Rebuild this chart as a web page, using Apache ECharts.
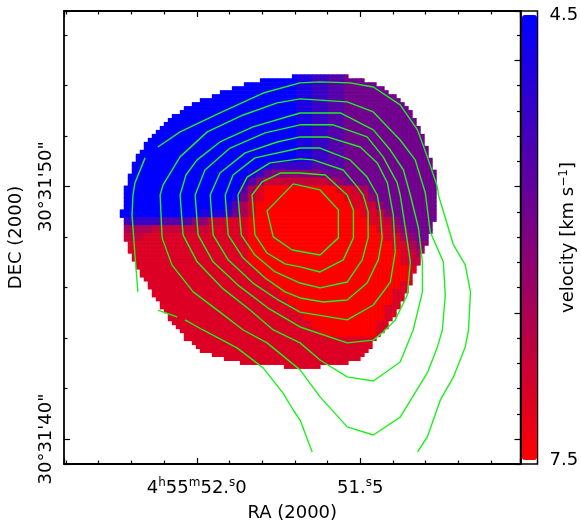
<!DOCTYPE html>
<html>
<head>
<meta charset="utf-8">
<script src="https://cdn.jsdelivr.net/npm/echarts@6/dist/echarts.min.js"></script>
<style>
html, body { margin: 0; padding: 0; background: #fff; }
#chart { width: 581px; height: 523px; }
</style>
</head>
<body>
<div id="chart"></div>
<script>
const FONT = 'DejaVu Sans';

// axis ranges: RA seconds of 4h55m, DEC arcsec of 30d31'
const RA_MIN = 51.010, RA_MAX = 52.406;
const DEC_MIN = 39.01, DEC_MAX = 56.96;
const VEL_MIN = 4.5, VEL_MAX = 7.5;

// velocity levels (km/s) used by the map codes 0..9
const VEL_LEVELS = [4.5, 4.83, 5.17, 5.5, 5.83, 6.17, 6.5, 6.83, 7.08, 7.5];

// velocity map on a 57x57 pixel grid, rows top -> bottom, run length coded "code x count"
const MAP_COLS = 57, MAP_ROWS = 57, MAP_COL0 = 7, MAP_ROW0 = 8;
const velocityRows = [
    [16, '0x6 1x2 2x2 3x2 4x4'],
    [13, '0x9 1x2 2x2 3x2 4x7'],
    [10, '0x12 1x2 2x2 3x2 4x8'],
    [7, '0x15 1x2 2x2 3x2 4x9'],
    [6, '0x16 1x2 2x2 3x2 4x10'],
    [4, '0x18 1x2 2x2 3x2 4x11'],
    [3, '0x19 1x2 2x2 3x2 4x11'],
    [2, '0x20 1x2 2x2 3x2 4x12'],
    [1, '0x21 1x2 2x2 3x2 4x12'],
    [0, '0x22 1x2 2x2 3x2 4x13'],
    [0, '0x22 1x2 2x2 3x2 4x13'],
    [-1, '0x19 1x1 2x5 3x4 4x13'],
    [-1, '0x17 1x1 2x1 4x1 5x6 4x16'],
    [-1, '0x16 1x1 3x1 5x1 7x8 6x1 5x1 4x14'],
    [-2, '0x17 3x1 6x1 8x1 9x9 8x2 7x1 6x1 4x11'],
    [-2, '0x16 1x1 4x1 7x1 8x1 9x10 8x2 7x1 5x1 4x10'],
    [-2, '0x15 1x1 3x1 6x1 8x1 9x12 8x2 7x1 5x1 4x9'],
    [-2, '0x12 1x3 2x1 4x1 6x1 8x1 9x13 8x2 7x1 5x1 4x8'],
    [-2, '2x7 3x4 5x2 7x2 8x3 9x15 8x2 7x1 5x1 4x6'],
    [-2, '6x6 7x7 8x5 9x16 8x2 6x1 5x1 4x5'],
    [-2, '7x5 8x13 9x17 8x2 6x1 5x1 4x4'],
    [-1, '8x17 9x18 8x2 6x1 5x3'],
    [-1, '8x17 9x19 8x1 7x1 6x3'],
    [0, '8x16 9x19 8x1 7x3'],
    [0, '8x17 9x19 8x3'],
    [1, '8x17 9x18 8x3'],
    [1, '8x18 9x16 8x3'],
    [2, '8x18 9x14 8x3'],
    [3, '8x18 9x13 8x3'],
    [3, '8x19 9x11 8x3'],
    [4, '8x19 9x10 8x3'],
    [5, '8x19 9x8 8x3'],
    [6, '8x19 9x7 8x3'],
    [7, '8x27'],
    [8, '8x25'],
    [11, '8x20'],
    [14, '8x16'],
];

// edge of the emission region, [RA s, DEC arcsec]
const mapOutline = [[51.684,54.39],[51.583,54.43],[51.500,54.31],[51.439,53.95],[51.387,53.56],[51.347,53.04],[51.316,52.25],[51.286,51.18],[51.264,50.15],[51.261,49.47],[51.264,49.08],[51.280,48.36],[51.307,47.41],[51.338,46.38],[51.378,45.31],[51.417,44.40],[51.460,43.81],[51.491,43.25],[51.552,42.93],[51.684,42.82],[51.858,43.01],[51.929,43.21],[51.990,43.53],[52.030,43.92],[52.057,44.32],[52.091,44.92],[52.134,45.71],[52.174,46.62],[52.204,47.41],[52.226,48.09],[52.229,49.00],[52.226,49.67],[52.214,50.15],[52.195,50.94],[52.164,51.57],[52.122,52.25],[52.073,52.76],[52.011,53.32],[51.929,53.71],[51.806,54.23]];

// contours, [RA s, DEC arcsec]
const contour1 = [[51.705,50.11],[51.623,49.87],[51.567,49.08],[51.567,47.97],[51.623,47.29],[51.708,47.49],[51.766,48.01],[51.785,49.04],[51.705,50.11]];
const contour2 = [[51.684,50.54],[51.607,50.46],[51.540,49.67],[51.521,49.08],[51.521,47.97],[51.552,47.10],[51.623,46.62],[51.684,46.82],[51.730,46.94],[51.785,47.37],[51.822,48.09],[51.831,49.67],[51.800,50.19],[51.745,50.54],[51.684,50.54]];
const contour3 = [[51.684,51.10],[51.644,51.06],[51.552,50.66],[51.509,49.99],[51.491,49.67],[51.476,49.00],[51.476,47.97],[51.494,47.10],[51.540,46.22],[51.623,45.99],[51.684,46.18],[51.760,46.62],[51.822,47.29],[51.864,48.09],[51.874,49.67],[51.846,50.38],[51.776,50.94],[51.684,51.10]];
const contour4 = [[51.684,51.53],[51.623,51.53],[51.531,51.06],[51.479,50.38],[51.448,49.67],[51.439,49.00],[51.433,47.97],[51.445,47.10],[51.479,46.18],[51.540,45.51],[51.613,45.43],[51.684,45.59],[51.730,45.83],[51.791,46.38],[51.858,47.17],[51.904,48.09],[51.913,49.67],[51.889,50.46],[51.822,51.14],[51.684,51.53]];
const contour5 = [[51.684,51.97],[51.601,51.97],[51.500,51.57],[51.448,50.94],[51.417,50.15],[51.399,48.88],[51.393,47.41],[51.408,46.22],[51.460,45.31],[51.540,44.72],[51.684,45.03],[51.751,45.51],[51.828,46.18],[51.904,47.10],[51.950,48.09],[51.959,49.67],[51.929,50.54],[51.852,51.34],[51.754,51.77],[51.684,51.97]];
const contour6 = [[51.684,52.45],[51.583,52.45],[51.479,51.97],[51.430,51.18],[51.387,50.15],[51.378,49.67],[51.362,48.36],[51.347,47.02],[51.356,45.71],[51.393,44.72],[51.430,44.24],[51.460,43.92],[51.540,43.81],[51.684,44.44],[51.782,45.19],[51.874,46.10],[51.950,47.02],[51.996,48.09],[52.005,49.67],[51.975,50.66],[51.898,51.53],[51.791,52.13],[51.684,52.45]];
const contour7 = [[51.684,52.92],[51.561,52.92],[51.460,52.25],[51.408,51.45],[51.368,50.66],[51.347,49.67],[51.322,48.36],[51.310,47.02],[51.310,45.83],[51.338,44.32],[51.378,43.05],[51.460,42.30],[51.540,42.46],[51.623,43.13],[51.684,43.81],[51.766,44.32],[51.837,45.11],[51.923,45.99],[51.999,47.02],[52.042,48.09],[52.051,49.67],[52.033,50.46],[51.999,51.06],[51.929,51.77],[51.828,52.37],[51.684,52.92]];
const contour8 = [[51.684,53.48],[51.540,53.36],[51.460,52.96],[51.378,51.85],[51.332,51.06],[51.301,49.75],[51.286,48.20],[51.246,47.02],[51.240,45.71],[51.249,44.32],[51.264,43.65],[51.295,42.62],[51.378,40.87],[51.460,40.16],[51.540,40.48],[51.623,41.67],[51.684,42.74],[51.785,43.81],[51.858,44.32],[51.929,45.03],[52.011,45.83],[52.076,46.90],[52.106,47.97],[52.112,49.67],[52.103,50.07],[52.051,51.18],[51.968,52.17],[51.858,52.84],[51.754,53.32],[51.684,53.48]];
const contour9 = [[52.119,51.57],[52.051,52.17],[51.929,52.92],[51.797,53.71],[51.684,54.11],[51.623,54.15],[51.531,54.11],[51.460,53.95],[51.378,53.24],[51.325,52.25],[51.295,51.18],[51.264,49.99],[51.261,49.67],[51.215,47.69],[51.179,46.90],[51.163,45.83],[51.169,44.32],[51.179,43.65],[51.215,42.46],[51.255,41.55],[51.295,40.08],[51.325,39.49]];
const contourWest = [[52.158,51.14],[52.189,50.15],[52.195,49.67],[52.198,48.88],[52.189,47.29],[52.180,45.83]];
const contourSouthA = [[52.119,45.11],[52.060,44.84]];
const contourSouthB = [[52.036,44.72],[51.981,44.32],[51.877,43.61],[51.797,42.82],[51.736,41.82],[51.705,41.15],[51.684,40.75],[51.647,39.49]];
const contourPeak = [[51.709,49.00],[51.705,49.00]];

const contours = [contour1, contour2, contour3, contour4, contour5, contour6, contour7, contour8, contour9,
    contourWest, contourSouthA, contourSouthB, contourPeak];

// coarse velocity pixels, keyed by "col,row"
const coarse = new Map();
velocityRows.forEach(([start, runs], j) => {
    let col = MAP_COL0 + start;
    for (const run of runs.split(' ')) {
        const [code, count] = run.split('x').map(Number);
        for (let n = 0; n < count; n++) {
            coarse.set(col + ',' + (MAP_ROW0 + j), VEL_LEVELS[code]);
            col++;
        }
    }
});

const insideOutline = (ra, dec) => {
    let inside = false;
    for (let i = 0, j = mapOutline.length - 1; i < mapOutline.length; j = i++) {
        const [xi, yi] = mapOutline[i];
        const [xj, yj] = mapOutline[j];
        if ((yi > dec) !== (yj > dec) && ra < ((xj - xi) * (dec - yi)) / (yj - yi) + xi) {
            inside = !inside;
        }
    }
    return inside;
};

// half-size cells so the edge of the emission follows the outline
const SUB = 2;
const FINE_COLS = MAP_COLS * SUB, FINE_ROWS = MAP_ROWS * SUB;
const heatCells = [];
for (let fj = 0; fj < FINE_ROWS; fj++) {
    const dec = DEC_MAX - ((fj + 0.5) * (DEC_MAX - DEC_MIN)) / FINE_ROWS;
    for (let fi = 0; fi < FINE_COLS; fi++) {
        const v = coarse.get(Math.floor(fi / SUB) + ',' + Math.floor(fj / SUB));
        if (v === undefined) continue;
        const ra = RA_MAX - ((fi + 0.5) * (RA_MAX - RA_MIN)) / FINE_COLS;
        if (insideOutline(ra, dec)) heatCells.push([fi, fj, v]);
    }
}
const colCats = Array.from({ length: FINE_COLS }, (_, i) => i);
const rowCats = Array.from({ length: FINE_ROWS }, (_, i) => i);

const near = (a, b) => Math.abs(a - b) < 1e-6;
const labelStyle = { color: '#000', fontFamily: FONT, fontSize: 18 };
const supRich = { s: { fontFamily: FONT, fontSize: 12, verticalAlign: 'top', color: '#000' } };
const tickLine = { color: '#000', width: 1.2 };
const frameLine = { color: '#000', width: 1.8 };

const raAxis = (pos) => ({
    gridIndex: 0, type: 'value', position: pos, inverse: true,
    min: RA_MIN, max: RA_MAX, minInterval: 0.5, maxInterval: 0.5,
    axisLine: { show: true, onZero: false, lineStyle: frameLine },
    axisTick: { show: true, inside: true, length: 6, lineStyle: tickLine },
    minorTick: { show: true, splitNumber: 5, length: 3.5, lineStyle: tickLine },
    splitLine: { show: false },
    axisLabel: pos === 'bottom' ? {
        ...labelStyle, margin: 13, lineHeight: 22, rich: supRich,
        formatter: (v) => {
            if (near(v, 52.0)) return '4{s|h}55{s|m}52.{s|s}0';
            if (near(v, 51.5)) return '51.{s|s}5';
            return '';
        },
    } : { show: false },
});

const decAxis = (pos, step, minor) => ({
    gridIndex: 0, type: 'value', position: pos,
    min: DEC_MIN, max: DEC_MAX, minInterval: step, maxInterval: step,
    axisLine: { show: true, onZero: false, lineStyle: frameLine },
    axisTick: { show: true, inside: true, length: 6, lineStyle: tickLine },
    minorTick: { show: true, splitNumber: minor, length: 3.5, lineStyle: tickLine },
    splitLine: { show: false },
    axisLabel: pos === 'left' ? {
        ...labelStyle, rotate: 90, margin: 9,
        formatter: (v) => (near(v, 50) ? '30°31\'50"' : near(v, 40) ? '30°31\'40"' : ''),
    } : { show: false },
});

const lineSeries = contours.map((pts) => ({
    type: 'line', xAxisIndex: 0, yAxisIndex: 0, data: pts,
    symbol: 'none', showSymbol: false, silent: true, z: 3,
    lineStyle: { color: '#1ef01e', width: 1.4 },
}));

// map pixels drawn slightly oversized so neighbouring cells leave no seams
const renderPixel = (params, api) => {
    const p = api.coord([api.value(0), api.value(1)]);
    const s = api.size([1, 1]);
    return {
        type: 'rect',
        shape: { x: p[0] - s[0] / 2 - 0.3, y: p[1] - s[1] / 2 - 0.3, width: s[0] + 0.6, height: s[1] + 0.6 },
        style: { fill: api.visual('color') },
    };
};

const chart = echarts.init(document.getElementById('chart'));
chart.setOption({
    animation: false,
    backgroundColor: '#fff',
    grid: [
        { left: 64, top: 11, width: 456.5, height: 453, outerBoundsMode: 'none' },
        { left: 520.5, top: 11, width: 17, height: 453, show: true, borderColor: '#000', borderWidth: 1.5, outerBoundsMode: 'none' },
    ],
    xAxis: [
        { ...raAxis('bottom'), name: 'RA (2000)', nameLocation: 'middle', nameGap: 38, nameTextStyle: labelStyle },
        raAxis('top'),
        { gridIndex: 0, type: 'category', data: colCats, show: false },
        { gridIndex: 1, type: 'value', min: 0, max: 1, show: false },
    ],
    yAxis: [
        { ...decAxis('left', 10, 5), name: 'DEC (2000)', nameLocation: 'middle', nameRotate: 90, nameGap: 39, nameTextStyle: labelStyle },
        decAxis('right', 5, 5),
        { gridIndex: 0, type: 'category', data: rowCats, inverse: true, show: false },
        {
            gridIndex: 1, type: 'value', position: 'right', inverse: true,
            min: 4.473, max: 7.527, minInterval: 1.5, maxInterval: 1.5,
            axisLine: { show: false }, axisTick: { show: false }, splitLine: { show: false },
            axisLabel: {
                ...labelStyle, margin: 12,
                formatter: (v) => (near(v, VEL_MIN) ? '4.5' : near(v, VEL_MAX) ? '7.5' : ''),
            },
            name: 'velocity [km s{sup|−1}]', nameLocation: 'middle', nameRotate: 90, nameGap: 20,
            nameMoveOverlap: false,
            nameTextStyle: { ...labelStyle, lineHeight: 22, rich: { sup: { fontFamily: FONT, fontSize: 12, verticalAlign: 'top', color: '#000' } } },
        },
    ],
    visualMap: {
        type: 'continuous', seriesIndex: 0, dimension: 2,
        min: VEL_MIN, max: VEL_MAX, inRange: { color: ['#0000ff', '#ff0000'] },
        calculable: false, hoverLink: false, inverse: true, orient: 'vertical',
        left: 522, top: 15, itemWidth: 15, itemHeight: 445, padding: 0, text: null,
    },
    series: [
        {
            type: 'custom', xAxisIndex: 2, yAxisIndex: 2, data: heatCells,
            dimensions: ['col', 'row', 'velocity'], encode: { x: 0, y: 1 },
            renderItem: renderPixel, silent: true, z: 1,
        },
        ...lineSeries,
    ],
});
</script>
</body>
</html>
